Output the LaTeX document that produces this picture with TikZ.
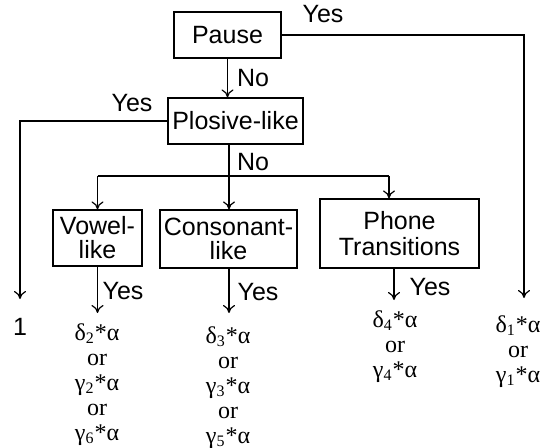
\documentclass[tikz,border=0pt]{standalone}
\usepackage{fontspec}
\setmainfont{Liberation Serif}
\newfontfamily\labfont{Liberation Sans}
\usetikzlibrary{arrows.meta}
\begin{document}
\begin{tikzpicture}[x=0.5pt,y=-0.5pt,
  every path/.style={line width=0.6pt},
  box/.style={draw,line width=0.6pt,inner sep=0pt,align=center,font=\labfont\fontsize{12.5}{14}\selectfont},
  lbl/.style={inner sep=0pt,font=\labfont\fontsize{12.5}{14}\selectfont},
  res/.style={inner sep=0pt,align=center,anchor=north,font=\fontsize{12}{12.5}\selectfont},
  arr/.style={-{To[length=4pt,width=6pt]}}]
\useasboundingbox (0,0) rectangle (550,448);
% boxes
\node[box,minimum width=53.5pt,minimum height=23pt] (pause) at (227.5,35) {Pause};
\node[box,minimum width=67.5pt,minimum height=23pt] (plos) at (235.5,121) {Plosive-like};
\node[box,minimum width=44.5pt,minimum height=28pt] (vowel) at (97.5,238) {Vowel-\\[-2pt]like};
\node[box,minimum width=68.5pt,minimum height=29pt] (cons) at (228.5,239) {Consonant-\\[-2pt]like};
\node[box,minimum width=79.5pt,minimum height=34.5pt] (phone) at (399.5,233.5) {Phone\\[-1pt]Transitions};
% labels
\node[lbl] (yes1) at (323,14) {Yes};
\node[lbl] (no1) at (253,78) {No};
\node[lbl] (yes2) at (132,103) {Yes};
\node[lbl] (no2) at (253,162) {No};
\node[lbl] (yes3) at (123,291) {Yes};
\node[lbl] (yes4) at (258,292) {Yes};
\node[lbl] (yes5) at (430,287) {Yes};
\node[lbl] (one) at (20,327) {1};
% results
\node[res] (r2) at (97,323) {δ\textsubscript{2}*α\\or\\γ\textsubscript{2}*α\\or\\γ\textsubscript{6}*α};
\node[res] (r3) at (228,326) {δ\textsubscript{3}*α\\or\\γ\textsubscript{3}*α\\or\\γ\textsubscript{5}*α};
\node[res] (r4) at (395,310) {δ\textsubscript{4}*α\\or\\γ\textsubscript{4}*α};
\node[res] (r1) at (518,315) {δ\textsubscript{1}*α\\or\\γ\textsubscript{1}*α};
% connectors
\coordinate (pyR) at (524,298);
\coordinate (pyL) at (20,299);
\coordinate (split) at (229,176);
\coordinate (tv) at (389,176);
\coordinate (ev) at (97,313);
\coordinate (ec) at (229,313);
\coordinate (ep) at (394,300);
\draw[arr] (pause.south) -- (pause.south |- plos.north);
\draw[arr] (pause.east) -| (pyR);
\draw[arr] (plos.west) -| (pyL);
\draw (plos.south -| split) -- (split);
\draw (vowel.north |- split) -- (tv);
\draw[arr] (vowel.north |- split) -- (vowel.north);
\draw[arr] (split) -- (cons.north -| split);
\draw[arr] (tv) -- (tv |- phone.north);
\draw[arr] (vowel.south) -- (vowel.south |- ev);
\draw[arr] (cons.south -| ec) -- (ec);
\draw[arr] (phone.south -| ep) -- (ep);
\end{tikzpicture}
\end{document}
